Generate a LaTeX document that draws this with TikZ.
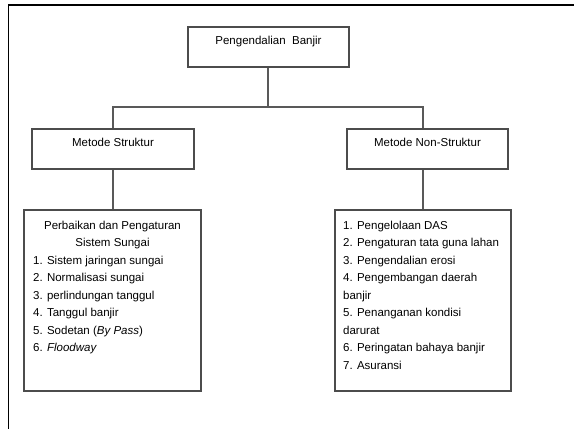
\documentclass[tikz,border=0pt]{standalone}
\usepackage{fontspec}
\setmainfont{Liberation Sans}
\begin{document}
\begin{tikzpicture}[x=1pt,y=-1pt,
  box/.style={draw=black!70, line width=1.2pt, rectangle, inner sep=0pt},
  conn/.style={draw=black!65, line width=1.2pt},
  frame/.style={draw=black, line width=1.5pt},
  txt/.style={inner sep=0pt, text=black, font=\fontsize{11.5}{17.5}\selectfont},
  listtxt/.style={txt, align=left},
  headtxt/.style={txt, align=center}]
\clip (0,0) rectangle (574,429);
\fill[white] (0,0) rectangle (574,429);
% outer frame (cut off at right and bottom)
\draw[frame] (8.5,440) |- (590,5);
% boxes
\node[box, minimum width=161pt, minimum height=40pt] (top) at (268.5,47) {};
\node[box, minimum width=162pt, minimum height=40pt] (ms) at (113,149) {};
\node[box, minimum width=161pt, minimum height=40pt] (ns) at (427.5,149) {};
\node[box, minimum width=177pt, minimum height=181pt] (lb) at (112.5,300.5) {};
\node[box, minimum width=176pt, minimum height=181pt] (rb) at (423,300.5) {};
% box titles
\node[txt, anchor=base] (toptext) at ([yshift=-18.5pt]top.north) {Pengendalian\ \ Banjir};
\node[txt, anchor=base] (mstext) at ([yshift=-18.5pt]ms.north) {Metode Struktur};
\node[txt, anchor=base] (nstext) at ([yshift=-18.5pt]ns.north) {Metode Non-Struktur};
% connectors
\coordinate (bus) at (268,107);
\draw[conn] (top.south -| bus) -- (bus);
\draw[conn] (ms.north) |- (bus) -| (ns.north -| rb.north);
\draw[conn] (ms.south) -- (lb.north -| ms.south);
\draw[conn] (ns.south -| rb.north) -- (rb.north);
% left list
\node[headtxt, anchor=north] (lhead) at (112.5,220.7) {Perbaikan dan Pengaturan\\Sistem Sungai};
\node[listtxt, anchor=north west] (llist) at (33,255.7) {1. Sistem jaringan sungai\\
2. Normalisasi sungai\\
3. perlindungan tanggul\\
4. Tanggul banjir\\
5. Sodetan (\textit{By Pass})\\
6. \textit{Floodway}};
% right list
\node[listtxt, anchor=north west] (rlist) at (343,220.7) {1. Pengelolaan DAS\\
2. Pengaturan tata guna lahan\\
3. Pengendalian erosi\\
4. Pengembangan daerah\\
banjir\\
5. Penanganan kondisi\\
darurat\\
6. Peringatan bahaya banjir\\
7. Asuransi};
\end{tikzpicture}
\end{document}
